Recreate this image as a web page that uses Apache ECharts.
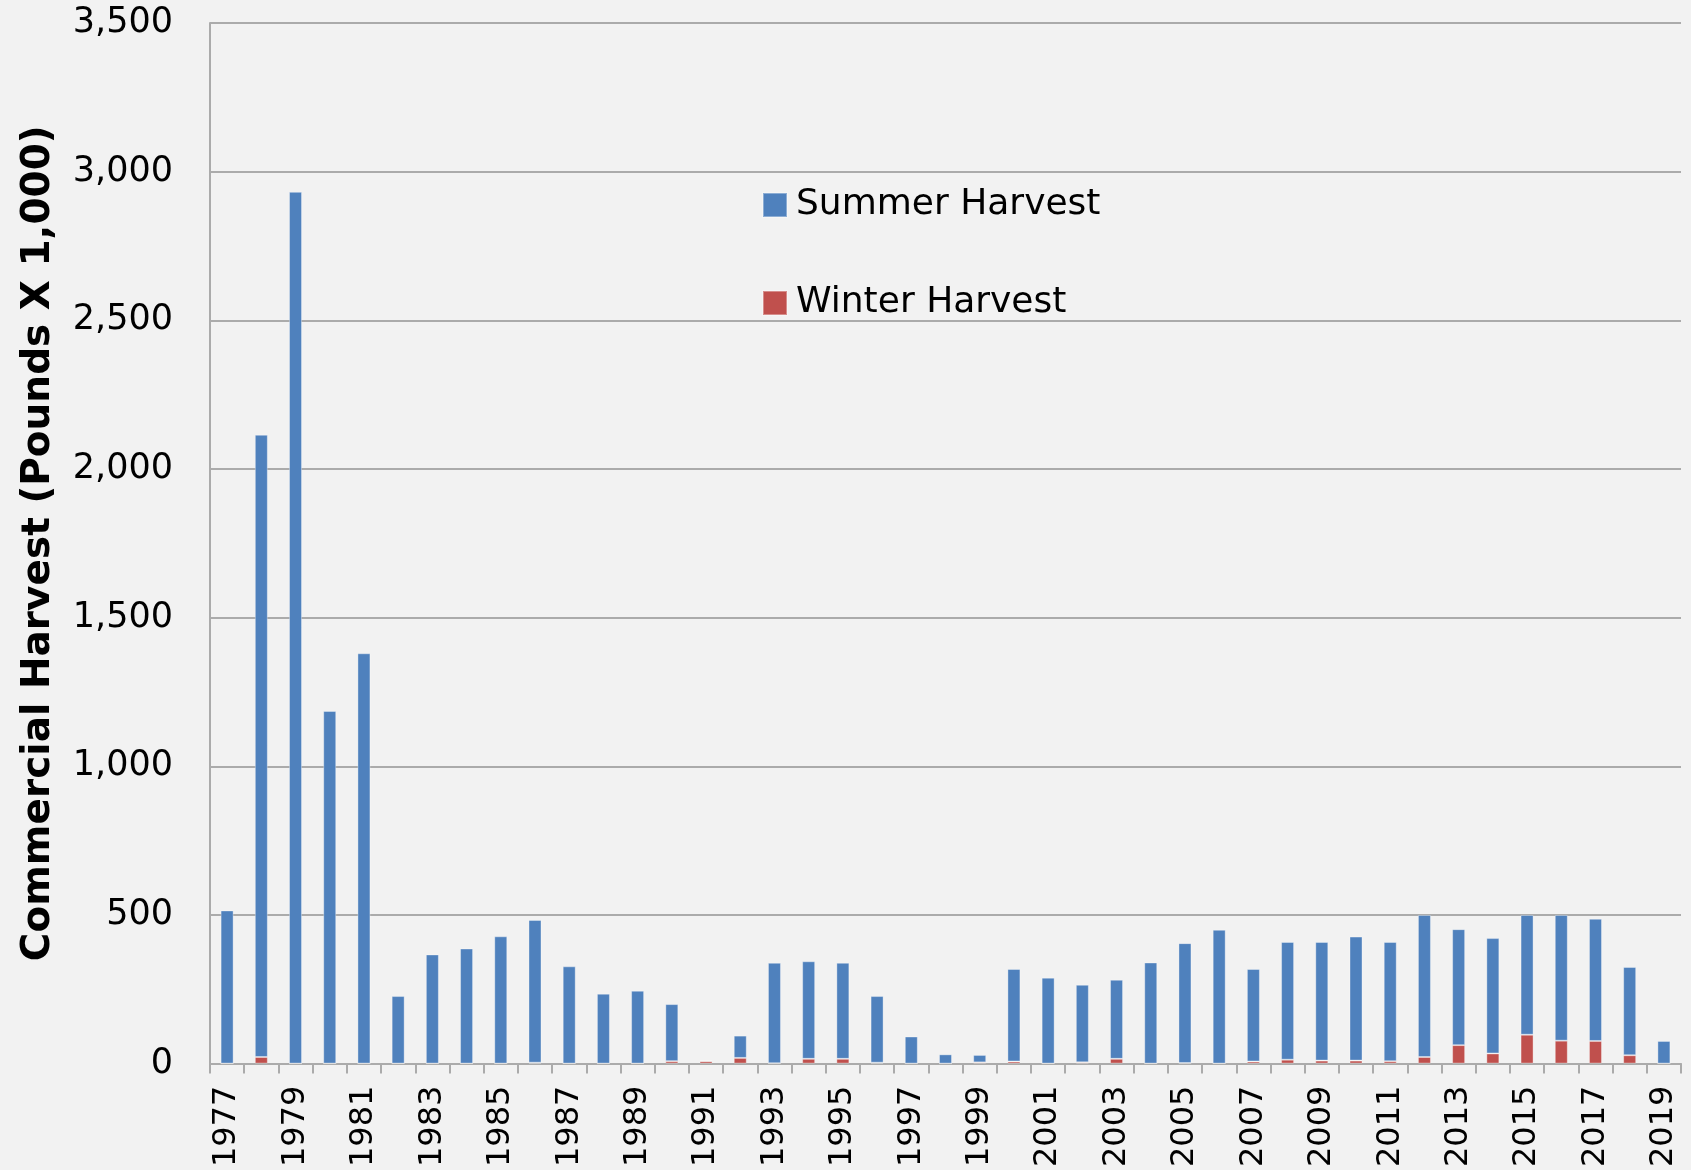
<!DOCTYPE html>
<html>
<head>
<meta charset="utf-8">
<title>Commercial Harvest</title>
<script src="https://cdn.jsdelivr.net/npm/echarts@6/dist/echarts.min.js"></script>
<style>
  html, body {
    margin: 0;
    padding: 0;
    background: #f2f2f2;
  }
  #chart {
    width: 1691px;
    height: 1170px;
  }
</style>
</head>
<body>
<div id="chart"></div>
<script>
// years on the x axis
const years = []
for (let y = 1977; y <= 2019; y++) years.push(String(y))

// pounds x 1,000
const summerHarvest = [
  515, 2093, 2932, 1186, 1380, 227, 367, 387, 428, 480,
  327, 235, 245, 192, 2, 75, 338, 328, 323, 224,
  91, 31, 25, 311, 289, 261, 266, 340, 403, 450,
  311, 396, 399, 417, 401, 478, 390, 388, 403, 423,
  411, 297, 76
]
const winterHarvest = [
  0, 22, 0, 0, 0, 0, 0, 0, 0, 3,
  0, 0, 0, 8, 8, 19, 1, 16, 16, 3,
  0, 0, 4, 7, 0, 4, 16, 0, 2, 0,
  7, 13, 10, 10, 8, 22, 62, 34, 97, 77,
  76, 28, 0
]
const yTicks = [0, 500, 1000, 1500, 2000, 2500, 3000, 3500]

const fontFamily = '"DejaVu Sans", sans-serif'
const gridColor = '#ababab'

const chart = echarts.init(document.getElementById('chart'))

const option = {
  backgroundColor: '#f2f2f2',
  animation: false,
  textStyle: { fontFamily: fontFamily, color: '#000' },
  grid: {
    left: 210,
    right: 10,
    top: 23,
    bottom: 106
  },
  legend: {
    data: ['Summer Harvest', 'Winter Harvest'],
    orient: 'vertical',
    left: 757,
    top: 182,
    itemWidth: 24,
    itemHeight: 24,
    itemGap: 62,
    icon: 'rect',
    textStyle: {
      fontFamily: fontFamily,
      fontSize: 36,
      lineHeight: 36,
      color: '#000',
      padding: [0, 0, 0, 4]
    }
  },
  xAxis: {
    type: 'category',
    data: years,
    boundaryGap: true,
    axisLine: { lineStyle: { color: gridColor, width: 2 } },
    axisTick: {
      show: true,
      interval: 0,
      length: 10,
      lineStyle: { color: gridColor, width: 2 }
    },
    axisLabel: {
      interval: 1,
      rotate: 90,
      margin: 22,
      fontSize: 32,
      color: '#000',
      fontFamily: fontFamily
    }
  },
  yAxis: {
    type: 'value',
    min: yTicks[0],
    max: yTicks[yTicks.length - 1],
    interval: 500,
    name: 'Commercial Harvest (Pounds X 1,000)',
    nameLocation: 'middle',
    nameRotate: 90,
    nameGap: 152,
    nameTextStyle: {
      fontSize: 39,
      fontWeight: 'bold',
      color: '#000',
      fontFamily: fontFamily
    },
    axisLine: { show: true, lineStyle: { color: gridColor, width: 2 } },
    axisTick: { show: false },
    axisLabel: {
      margin: 37,
      fontSize: 35,
      color: '#000',
      fontFamily: fontFamily,
      formatter: function (v) {
        return v.toLocaleString('en-US')
      }
    },
    splitLine: { lineStyle: { color: gridColor, width: 2 } }
  },
  series: [
    {
      name: 'Winter Harvest',
      type: 'bar',
      stack: 'total',
      barWidth: 13,
      data: winterHarvest,
      itemStyle: {
        color: '#c0504d',
        borderColor: 'rgba(255,255,255,0.35)',
        borderWidth: 1
      }
    },
    {
      name: 'Summer Harvest',
      type: 'bar',
      stack: 'total',
      barWidth: 13,
      data: summerHarvest,
      itemStyle: {
        color: '#4f81bd',
        borderColor: 'rgba(255,255,255,0.35)',
        borderWidth: 1
      }
    }
  ]
}

chart.setOption(option)
</script>
</body>
</html>
